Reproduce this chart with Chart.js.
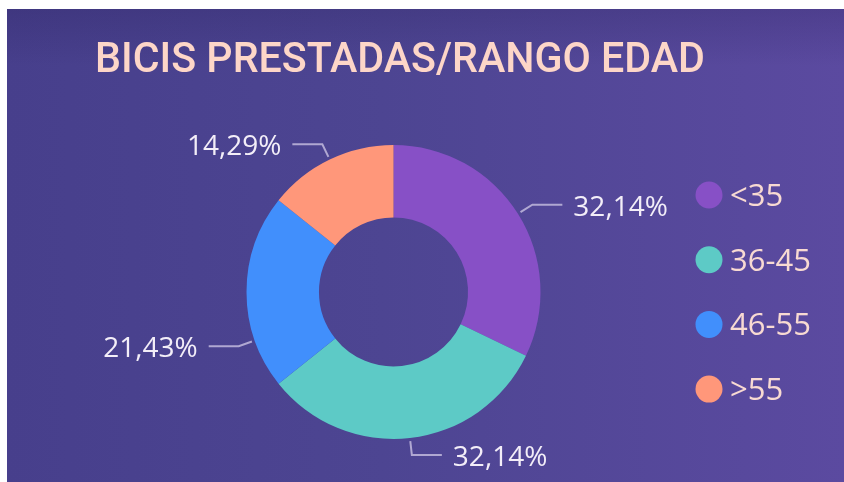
<!DOCTYPE html>
<html>
<head>
<meta charset="utf-8">
<script src="https://cdn.jsdelivr.net/npm/chart.js@4.4.1/dist/chart.umd.min.js"></script>
<style>
  html, body { margin: 0; padding: 0; background: #ffffff; }
  #wrap {
    position: absolute; left: 7px; top: 9px; width: 837px; height: 473px;
    background: linear-gradient(to right, #473f8c 0%, #4d4592 45%, #5b4aa0 100%);
  }
  #shade {
    position: absolute; left: 0; top: 0; width: 100%; height: 100%;
    background: linear-gradient(to bottom, rgba(40,30,90,0.25) 0%, rgba(40,30,90,0) 12%);
  }
  canvas { position: absolute; left: 0; top: 0; }
</style>
</head>
<body>
<div id="wrap"><div id="shade"></div><canvas id="myChart" width="837" height="473"></canvas></div>
<script>
const title = "BICIS PRESTADAS/RANGO EDAD";
const ageRanges = ["<35", "36-45", "46-55", ">55"];
const bikesLent = [9, 9, 6, 4];
const pctLabels = ["32,14%", "32,14%", "21,43%", "14,29%"];
const sliceColors = ["#8750c6", "#5dcac6", "#418ffc", "#ff977a"];
// where along each arc the leader line leaves (0.5 = middle)
const anchorAt = [0.5, 0.5, 0.25, 0.5];

const extras = {
  id: "extras",
  afterDraw(chart) {
    const ctx = chart.ctx;
    ctx.save();

    // title
    ctx.fillStyle = "#fdd6c8";
    ctx.font = "500 42px Roboto";
    ctx.textAlign = "left";
    ctx.textBaseline = "alphabetic";
    ctx.fillText(title, 88, 63, 610);

    // legend
    ctx.font = "31px 'Open Sans'";
    chart.data.labels.forEach((lab, i) => {
      const cy = 186 + i * 64.7;
      ctx.fillStyle = chart.data.datasets[0].backgroundColor[i];
      ctx.beginPath();
      ctx.arc(702, cy, 13.5, 0, Math.PI * 2);
      ctx.fill();
      ctx.fillStyle = "#f8dad2";
      ctx.fillText(lab, 723, cy + 11);
    });

    // data labels with leader lines
    const meta = chart.getDatasetMeta(0);
    ctx.font = "28px 'Open Sans'";
    ctx.strokeStyle = "#b0a8d2";
    ctx.lineWidth = 2;
    meta.data.forEach((arc, i) => {
      const p = arc.getProps(["x", "y", "startAngle", "endAngle", "outerRadius"], true);
      const a = p.startAngle + (p.endAngle - p.startAngle) * anchorAt[i];
      const cos = Math.cos(a), sin = Math.sin(a);
      const x0 = p.x + cos * (p.outerRadius + 3), y0 = p.y + sin * (p.outerRadius + 3);
      const x1 = p.x + cos * (p.outerRadius + 17), y1 = p.y + sin * (p.outerRadius + 17);
      const dir = cos >= 0 ? 1 : -1;
      const x2 = x1 + dir * 30;
      ctx.beginPath();
      ctx.moveTo(x0, y0);
      ctx.lineTo(x1, y1);
      ctx.lineTo(x2, y1);
      ctx.stroke();
      ctx.fillStyle = "#f3eef8";
      ctx.textAlign = dir > 0 ? "left" : "right";
      ctx.fillText(pctLabels[i], x2 + dir * 11, y1 + 11);
    });
    ctx.restore();
  }
};

new Chart(document.getElementById("myChart"), {
  type: "doughnut",
  data: {
    labels: ageRanges,
    datasets: [
      {
        data: bikesLent,
        backgroundColor: sliceColors,
        borderWidth: 0,
      },
    ],
  },
  options: {
    responsive: false,
    animation: false,
    cutout: "50.7%",
    layout: {
      padding: { top: 136, bottom: 43, left: 239.5, right: 303.5 },
    },
    plugins: {
      legend: { display: false },
      tooltip: { enabled: false },
    },
  },
  plugins: [extras],
});
</script>
</body>
</html>
